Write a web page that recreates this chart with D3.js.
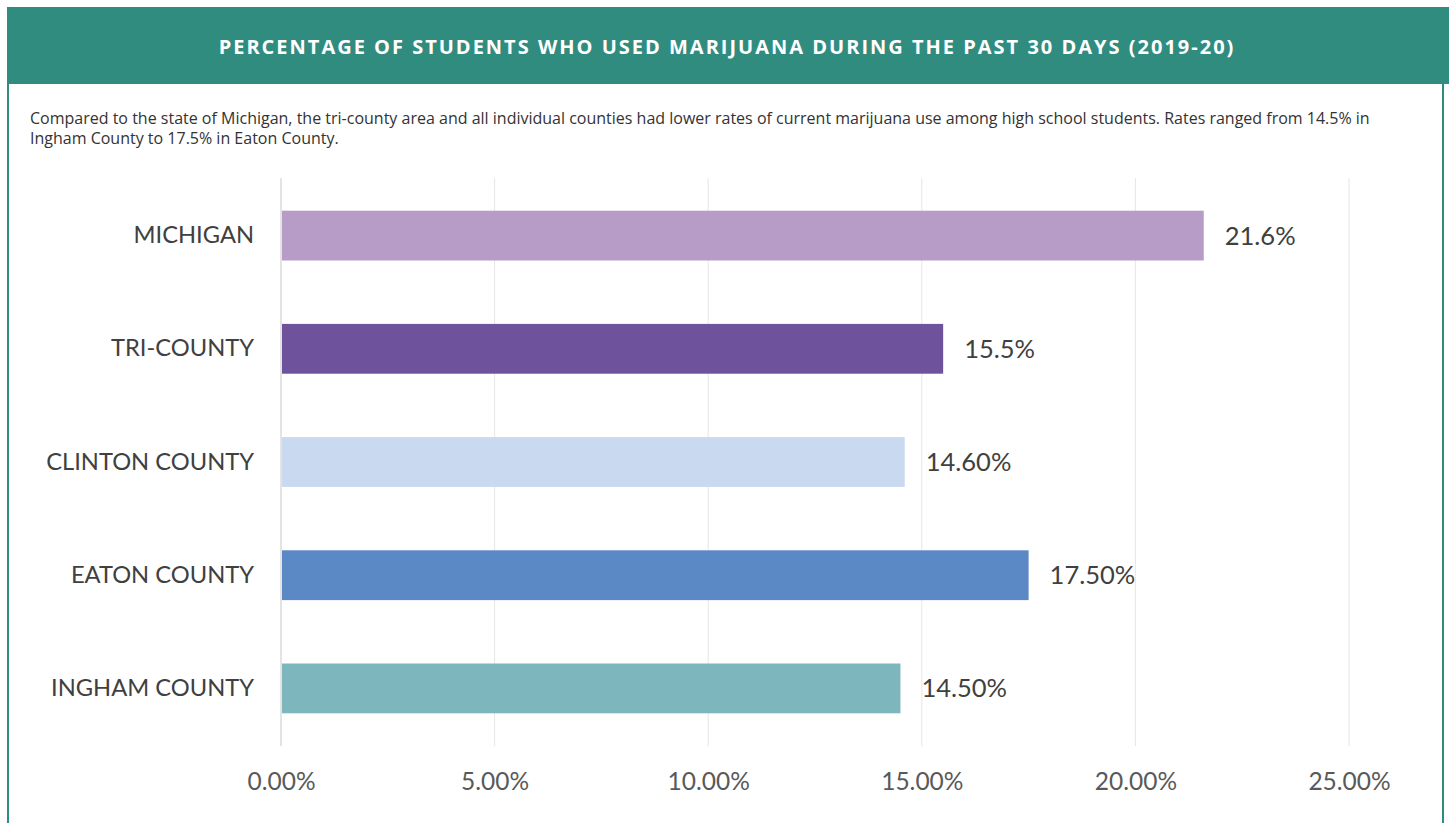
<!DOCTYPE html>
<html>
<head>
<meta charset="utf-8">
<script src="https://cdn.jsdelivr.net/npm/d3@7"></script>
<style>
  html, body { margin: 0; padding: 0; background: #fff; }
  svg { display: block; }
</style>
</head>
<body>
<svg id="chart" width="1449" height="823"></svg>
<script>
// Data
const categories = ["MICHIGAN", "TRI-COUNTY", "CLINTON COUNTY", "EATON COUNTY", "INGHAM COUNTY"];
const values = [21.6, 15.5, 14.6, 17.5, 14.5];
const valueLabels = ["21.6%", "15.5%", "14.60%", "17.50%", "14.50%"];
const barColors = ["#b89cc8", "#6e539c", "#c9d9ef", "#5b89c6", "#7db6bd"];
const tickValues = [0, 5, 10, 15, 20, 25];
const titleText = "PERCENTAGE OF STUDENTS WHO USED MARIJUANA DURING THE PAST 30 DAYS (2019-20)";
const descLines = [
  "Compared to the state of Michigan, the tri-county area and all individual counties had lower rates of current marijuana use among high school students. Rates ranged from 14.5% in",
  "Ingham County to 17.5% in Eaton County."
];

const svg = d3.select("#chart");
const teal = "#318c80";

// Card frame: header band plus side borders
svg.append("rect").attr("x", 7).attr("y", 7).attr("width", 1442).attr("height", 77).attr("fill", teal);
svg.append("rect").attr("x", 7).attr("y", 84).attr("width", 2).attr("height", 739).attr("fill", teal);
svg.append("rect").attr("x", 1442).attr("y", 84).attr("width", 2).attr("height", 739).attr("fill", teal);

svg.append("text")
  .attr("x", 727).attr("y", 54)
  .attr("text-anchor", "middle")
  .attr("fill", "#fff")
  .style("font-family", "'Open Sans', sans-serif")
  .style("font-weight", 700)
  .style("font-size", "20px")
  .style("letter-spacing", "2px")
  .text(titleText);

const desc = svg.append("text")
  .attr("fill", "#333")
  .style("font-family", "'Open Sans', sans-serif")
  .style("font-size", "16px");
descLines.forEach((line, i) => {
  desc.append("tspan").attr("x", 30).attr("y", 124 + i * 20).text(line);
});

// Scales
const x = d3.scaleLinear().domain([0, 25]).range([281, 1349]);
const y = d3.scaleBand().domain(categories).range([179, 745]).paddingInner(0.56).paddingOuter(0.28);

const chartFont = "Lato, 'Open Sans', sans-serif";

// Vertical gridlines
svg.append("g")
  .selectAll("line")
  .data(tickValues)
  .join("line")
  .attr("x1", d => x(d)).attr("x2", d => x(d))
  .attr("y1", 178).attr("y2", 746)
  .attr("stroke", d => d === 0 ? "#c8c8c8" : "#e6e6e6")
  .attr("stroke-width", 1);

// Bottom axis labels
const xAxis = d3.axisBottom(x)
  .tickValues(tickValues)
  .tickFormat(d => d3.format(".2f")(d) + "%")
  .tickSize(0)
  .tickPadding(0);
const gx = svg.append("g").attr("transform", "translate(0,790)").call(xAxis);
gx.select(".domain").remove();
gx.selectAll("text")
  .attr("dy", 0)
  .attr("fill", "#595959")
  .style("font-family", chartFont)
  .style("font-size", "24.5px");

// Bars
svg.append("g")
  .selectAll("rect")
  .data(categories)
  .join("rect")
  .attr("x", x(0) + 1)
  .attr("y", d => y(d))
  .attr("width", (d, i) => x(values[i]) - x(0) - 1)
  .attr("height", y.bandwidth())
  .attr("fill", (d, i) => barColors[i]);

// Category labels
const yAxis = d3.axisLeft(y).tickSize(0).tickPadding(27);
const gy = svg.append("g").attr("transform", `translate(${x(0)},0)`).call(yAxis);
gy.select(".domain").remove();
gy.selectAll("text")
  .attr("fill", "#404040")
  .style("font-family", chartFont)
  .style("font-size", "23.7px");

// Value labels
svg.append("g")
  .selectAll("text")
  .data(categories)
  .join("text")
  .attr("x", (d, i) => x(values[i]) + 21)
  .attr("y", d => y(d) + y.bandwidth() / 2)
  .attr("dy", "0.35em")
  .attr("fill", "#404040")
  .style("font-family", chartFont)
  .style("font-size", "25.5px")
  .text((d, i) => valueLabels[i]);
</script>
</body>
</html>
